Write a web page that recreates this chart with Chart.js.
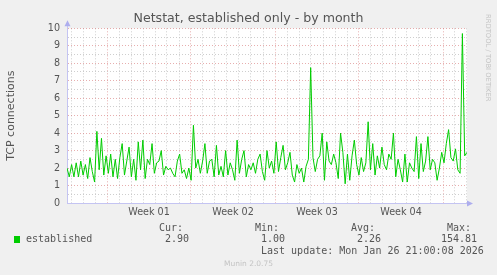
<!DOCTYPE html>
<html><head><meta charset="utf-8">
<script src="https://cdn.jsdelivr.net/npm/chart.js@4/dist/chart.umd.min.js"></script>
<style>
html,body{margin:0;padding:0;background:#f0f0f0;}
#wrap{position:relative;width:497px;height:275px;overflow:hidden;background:#f0f0f0;}
canvas{position:absolute;left:0;top:0;}
.m{position:absolute;white-space:pre;font-family:'DejaVu Sans Mono',monospace;font-size:10px;line-height:12px;color:#555;}
#sw{position:absolute;left:14px;top:236px;width:6px;height:7px;background:#00cc00;}
#munin{position:absolute;left:0;width:497px;top:259px;text-align:center;font-family:'DejaVu Sans',sans-serif;font-size:7.5px;line-height:9px;color:#c4c4c4;}
#rrd{position:absolute;left:484px;top:14px;writing-mode:vertical-rl;font-family:'DejaVu Sans',sans-serif;font-size:6.8px;line-height:8px;color:#c4c4c4;white-space:nowrap;}
</style></head>
<body><div id="wrap"><canvas id="c" width="497" height="275"></canvas>
<div id="sw"></div>
<div id="munin">Munin 2.0.75</div>
<div id="rrd">RRDTOOL / TOBI OETIKER</div>
</div>
<script>
// ---- data ----
const TITLE = 'Netstat, established only - by month';
const Y_TITLE = 'TCP connections';
const SERIES_NAME = 'established';
const established = [
 2.0,1.5,2.2,1.5,2.3,1.5,2.4,1.6,2.2,1.4,
 2.6,1.8,1.2,4.1,1.9,3.7,1.6,2.7,1.7,2.8,
 1.5,2.5,1.4,2.6,3.4,1.6,2.4,3.2,1.5,2.5,
 1.3,3.5,1.9,3.6,1.4,2.5,2.2,3.4,1.7,2.3,
 2.4,3.0,1.6,2.1,1.9,2.0,1.7,1.5,2.4,2.8,
 1.7,1.9,1.4,2.0,1.3,4.45,2.0,2.5,1.7,2.4,
 3.4,1.7,2.4,2.5,1.5,3.3,1.6,2.1,1.5,3.0,
 1.6,2.3,1.9,1.3,3.6,1.7,2.5,3.0,1.5,2.2,
 1.9,2.3,1.7,2.5,2.8,1.8,1.3,3.0,2.0,2.4,
 1.7,3.5,1.8,2.6,3.3,1.9,2.3,2.9,1.6,1.2,
 2.2,1.7,2.0,1.2,2.1,2.5,7.75,2.6,1.8,2.5,
 2.7,4.0,1.3,3.5,2.4,2.2,2.8,2.3,1.4,4.0,
 2.9,1.1,2.8,1.3,2.7,3.6,2.2,1.6,2.6,1.8,
 2.3,4.65,1.9,3.4,1.6,2.7,2.0,3.2,2.2,1.9,
 2.8,2.5,4.0,1.5,2.5,1.9,1.2,2.8,1.2,2.3,
 2.0,1.8,3.8,1.4,3.4,1.8,2.4,3.8,1.9,2.5,
 2.3,1.3,2.0,2.9,2.3,3.4,4.2,2.6,2.4,3.1,
 1.9,1.7,9.7,2.7,2.9
];
const WEEK_LABELS = ['Week 01','Week 02','Week 03','Week 04'];
const LEGEND_HEADS = ['Cur:','Min:','Avg:','Max:'];
const LEGEND_VALUES = ['2.90','1.00','2.26','154.81'];
const LAST_UPDATE = 'Last update: Mon Jan 26 21:00:08 2026';
const Y_MIN = 0, Y_MAX = 10;

// ---- layout constants ----
const SPAN_DAYS = 400/12;          // visible time span in days
const FIRST_WEEK = 10/3;           // first week boundary (days from left)
const AXIS_COLOR = '#c4c4f2';
const ARROW_COLOR = '#aeaeee';
const MAJOR = 'rgba(215,120,120,0.6)';
const MINOR = 'rgba(190,190,190,0.75)';
const TEXT = '#555';

// legend html
const wrap = document.getElementById('wrap');
function addText(txt, left, top){ const d=document.createElement('div'); d.className='m'; d.style.left=left+'px'; d.style.top=top+'px'; d.textContent=txt; wrap.appendChild(d); }
const headX = [159,255,351,447];
const valX = [165,261,357,441];
LEGEND_HEADS.forEach((h,i)=>addText(h, headX[i], 222));
LEGEND_VALUES.forEach((v,i)=>addText(v, valX[i], 233));
addText(SERIES_NAME, 26, 233);
addText(LAST_UPDATE, 261, 245);

const step = SPAN_DAYS/(established.length-1);
const points = established.map((v,i)=>({x:i*step, y:v}));

// x ticks: day lines, week lines, week label positions
const xTicks = [];
for (let d = 1/3; d < SPAN_DAYS; d += 1) {
  const r = (((d - FIRST_WEEK) % 7) + 7) % 7;
  const isWeek = r < 1e-6 || Math.abs(r - 7) < 1e-6;
  xTicks.push({value:d, kind: isWeek ? 'week' : 'day'});
}
WEEK_LABELS.forEach((lab,i)=>xTicks.push({value:FIRST_WEEK + 7*i + 3.5, kind:'label', text:lab}));
xTicks.sort((a,b)=>a.value-b.value);

const yTicks = [];
for (let v = Y_MIN; v <= Y_MAX + 1e-9; v += 0.5) yTicks.push({value: Math.round(v*2)/2});

const decor = {
  id:'decor',
  beforeDraw(chart){
    const {ctx, chartArea:a} = chart;
    ctx.save(); ctx.fillStyle='#ffffff';
    ctx.fillRect(a.left, a.top, a.right-a.left, a.bottom-a.top);
    ctx.restore();
  },
  afterDraw(chart){
    const {ctx, chartArea:a} = chart;
    const lx = Math.round(a.left)+0.5, by = Math.round(a.bottom)+0.5;
    ctx.save();
    ctx.strokeStyle = AXIS_COLOR; ctx.lineWidth = 1;
    ctx.beginPath();
    ctx.moveTo(lx, a.top); ctx.lineTo(lx, a.top-4);
    ctx.moveTo(a.right, by); ctx.lineTo(a.right+3, by);
    ctx.stroke();
    ctx.fillStyle = ARROW_COLOR;
    ctx.beginPath();
    ctx.moveTo(lx, a.top-8); ctx.lineTo(lx-3, a.top-2); ctx.lineTo(lx+3, a.top-2); ctx.closePath(); ctx.fill();
    ctx.beginPath();
    ctx.moveTo(a.right+6, by); ctx.lineTo(a.right, by-3); ctx.lineTo(a.right, by+3); ctx.closePath(); ctx.fill();
    ctx.restore();
  }
};

new Chart(document.getElementById('c'), {
  type:'line',
  data:{ datasets:[{ label:SERIES_NAME, data:points, borderColor:'#00cc00', borderWidth:1, pointRadius:0, fill:false, tension:0 }]},
  options:{
    responsive:false, animation:false, devicePixelRatio:1,
    layout:{ padding:{ left:0, right:0, top:0, bottom:52 } },
    plugins:{
      legend:{display:false}, tooltip:{enabled:false},
      title:{ display:true, text:TITLE, color:TEXT, font:{family:'DejaVu Sans', size:12.6, weight:'normal'}, padding:{top:11.6, bottom:1.6} }
    },
    scales:{
      x:{
        type:'linear', min:0, max:SPAN_DAYS,
        afterBuildTicks(s){ s.ticks = xTicks.map(t=>({value:t.value, kind:t.kind, text:t.text})); },
        afterFit(s){ s.height = 20; },
        ticks:{ autoSkip:false, maxRotation:0, color:TEXT, padding:4, font:{family:'DejaVu Sans', size:9.6},
          callback(v, i, ticks){ const t = ticks[i]; return t && t.kind==='label' ? t.text : ''; } },
        grid:{ drawTicks:false, lineWidth:1, color(c){ const k = c.tick && c.tick.kind; return k==='week' ? MAJOR : (k==='day' ? MINOR : 'rgba(0,0,0,0)'); } },
        border:{ display:true, color:AXIS_COLOR, width:1, dash:[1,2] }
      },
      y:{
        type:'linear', min:Y_MIN, max:Y_MAX, position:'left',
        afterBuildTicks(s){ s.ticks = yTicks.map(t=>({value:t.value})); },
        afterFit(s){ s.width = 67; },
        ticks:{ autoSkip:false, color:TEXT, padding:7, font:{family:'DejaVu Sans', size:9.6},
          callback(v){ return Number.isInteger(v) ? String(v) : ''; } },
        grid:{ drawTicks:false, lineWidth:1, color(c){ const v = c.tick ? c.tick.value : 0; return Number.isInteger(v) ? MAJOR : MINOR; } },
        border:{ display:true, color:AXIS_COLOR, width:1, dash:[1,2] },
        title:{ display:true, text:Y_TITLE, color:TEXT, font:{family:'DejaVu Sans', size:11}, padding:{top:5, bottom:0} }
      },
      y2:{
        type:'linear', position:'right', display:true,
        grid:{display:false, drawOnChartArea:false}, ticks:{display:false}, border:{display:false},
        afterFit(s){ s.width = 30; }
      }
    }
  },
  plugins:[decor]
});
</script>
</body></html>
